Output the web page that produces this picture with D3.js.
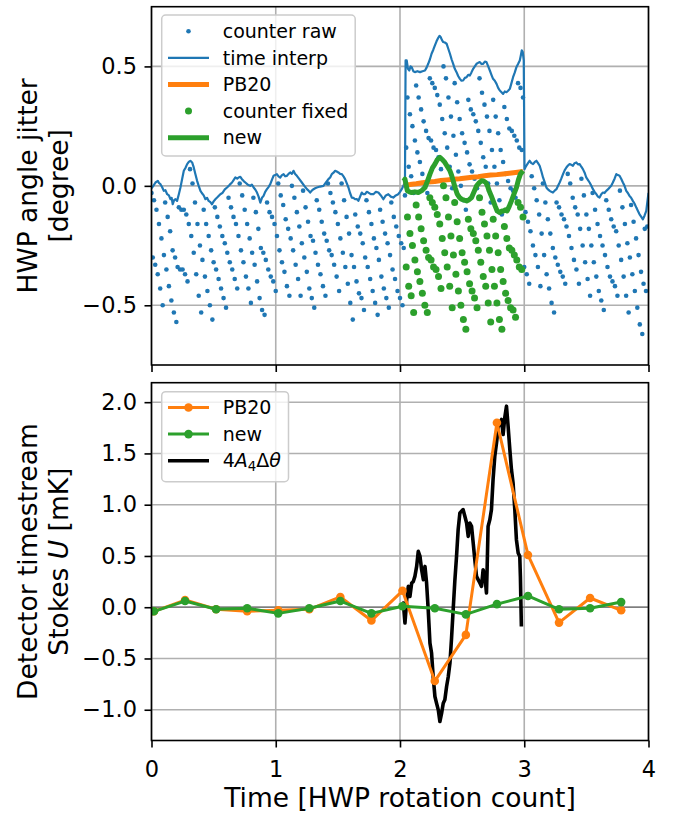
<!DOCTYPE html>
<html>
<head>
<meta charset="utf-8">
<script src="https://cdn.jsdelivr.net/npm/d3@7"></script>
<style>
  body { margin: 0; background: #ffffff; }
  svg { display: block; }
  text { font-family: "DejaVu Sans", sans-serif; }
</style>
</head>
<body>
<svg id="chart" width="673" height="817"></svg>
<script>
// ---------------- DATA ----------------
// Top panel: HWP angle jitter [degree] vs time [HWP rotation count]
const rawTime = [
0.00,0.01,0.02,0.03,0.04,0.05,0.06,0.07,0.08,0.09,0.10,0.11,0.12,0.13,0.14,0.15,0.16,0.17,0.18,0.19,
0.20,0.21,0.22,0.23,0.24,0.25,0.26,0.27,0.28,0.29,0.30,0.31,0.32,0.33,0.34,0.35,0.36,0.37,0.38,0.39,
0.40,0.41,0.42,0.43,0.44,0.45,0.46,0.47,0.48,0.49,0.50,0.51,0.52,0.53,0.54,0.55,0.56,0.57,0.58,0.59,
0.60,0.61,0.62,0.63,0.64,0.65,0.66,0.67,0.68,0.69,0.70,0.71,0.72,0.73,0.74,0.75,0.76,0.77,0.78,0.79,
0.80,0.81,0.82,0.83,0.84,0.85,0.86,0.87,0.88,0.89,0.90,0.91,0.92,0.93,0.94,0.95,0.96,0.97,0.98,0.99,
1.00,1.01,1.02,1.03,1.04,1.05,1.06,1.07,1.08,1.09,1.10,1.11,1.12,1.13,1.14,1.15,1.16,1.17,1.18,1.19,
1.20,1.21,1.22,1.23,1.24,1.25,1.26,1.27,1.28,1.29,1.30,1.31,1.32,1.33,1.34,1.35,1.36,1.37,1.38,1.39,
1.40,1.41,1.42,1.43,1.44,1.45,1.46,1.47,1.48,1.49,1.50,1.51,1.52,1.53,1.54,1.55,1.56,1.57,1.58,1.59,
1.60,1.61,1.62,1.63,1.64,1.65,1.66,1.67,1.68,1.69,1.70,1.71,1.72,1.73,1.74,1.75,1.76,1.77,1.78,1.79,
1.80,1.81,1.82,1.83,1.84,1.85,1.86,1.87,1.88,1.89,1.90,1.91,1.92,1.93,1.94,1.95,1.96,1.97,1.98,1.99,
2.00,2.01,2.02,2.03,2.04,2.05,2.06,2.07,2.08,2.09,2.10,2.11,2.12,2.13,2.14,2.15,2.16,2.17,2.18,2.19,
2.20,2.21,2.22,2.23,2.24,2.25,2.26,2.27,2.28,2.29,2.30,2.31,2.32,2.33,2.34,2.35,2.36,2.37,2.38,2.39,
2.40,2.41,2.42,2.43,2.44,2.45,2.46,2.47,2.48,2.49,2.50,2.51,2.52,2.53,2.54,2.55,2.56,2.57,2.58,2.59,
2.60,2.61,2.62,2.63,2.64,2.65,2.66,2.67,2.68,2.69,2.70,2.71,2.72,2.73,2.74,2.75,2.76,2.77,2.78,2.79,
2.80,2.81,2.82,2.83,2.84,2.85,2.86,2.87,2.88,2.89,2.90,2.91,2.92,2.93,2.94,2.95,2.96,2.97,2.98,2.99,
3.00,3.01,3.02,3.03,3.04,3.05,3.06,3.07,3.08,3.09,3.10,3.11,3.12,3.13,3.14,3.15,3.16,3.17,3.18,3.19,
3.20,3.21,3.22,3.23,3.24,3.25,3.26,3.27,3.28,3.29,3.30,3.31,3.32,3.33,3.34,3.35,3.36,3.37,3.38,3.39,
3.40,3.41,3.42,3.43,3.44,3.45,3.46,3.47,3.48,3.49,3.50,3.51,3.52,3.53,3.54,3.55,3.56,3.57,3.58,3.59,
3.60,3.61,3.62,3.63,3.64,3.65,3.66,3.67,3.68,3.69,3.70,3.71,3.72,3.73,3.74,3.75,3.76,3.77,3.78,3.79,
3.80,3.81,3.82,3.83,3.84,3.85,3.86,3.87,3.88,3.89,3.90,3.91,3.92,3.93,3.94,3.95,3.96,3.97,3.98,3.99];

const rawAngle = [
-0.03,-0.30,-0.06,-0.33,-0.10,-0.37,-0.16,-0.43,-0.22,-0.50,
-0.29,-0.07,-0.35,-0.13,-0.42,-0.19,-0.48,-0.27,-0.53,-0.30,
-0.57,-0.34,-0.09,-0.35,-0.10,-0.35,-0.10,-0.37,-0.12,-0.40,
-0.16,0.07,-0.21,0.01,-0.28,-0.07,-0.37,-0.16,-0.46,-0.25,
-0.53,-0.31,-0.10,-0.38,-0.16,-0.44,-0.21,-0.50,-0.27,-0.56,
-0.32,-0.09,-0.35,-0.13,-0.39,-0.17,-0.43,-0.21,-0.47,-0.24,
-0.51,-0.28,-0.05,-0.32,-0.09,-0.35,-0.13,-0.39,-0.16,-0.43,
-0.21,0.01,-0.27,-0.04,-0.32,-0.10,-0.38,-0.16,-0.43,-0.22,
-0.49,-0.28,-0.05,-0.33,-0.11,-0.40,-0.18,-0.47,-0.26,-0.52,
-0.28,-0.54,-0.31,-0.07,-0.35,-0.11,-0.38,-0.13,-0.40,-0.16,
-0.44,-0.21,0.01,-0.27,-0.04,-0.32,-0.08,-0.36,-0.14,-0.42,
-0.18,-0.46,-0.22,0.00,-0.27,-0.05,-0.33,-0.11,-0.39,-0.17,
-0.46,-0.24,-0.02,-0.30,-0.09,-0.36,-0.15,-0.43,-0.21,-0.47,
-0.23,-0.51,-0.28,-0.06,-0.33,-0.10,-0.37,-0.15,-0.42,-0.20,
-0.46,-0.23,0.01,-0.27,-0.03,-0.29,-0.07,-0.33,-0.11,-0.38,
-0.16,-0.44,-0.22,0.01,-0.28,-0.06,-0.34,-0.13,-0.41,-0.20,
-0.49,-0.29,-0.56,-0.34,-0.12,-0.40,-0.17,-0.45,-0.20,-0.47,
-0.24,-0.52,-0.30,-0.06,-0.34,-0.11,-0.39,-0.16,-0.44,-0.22,
-0.49,-0.26,-0.54,-0.31,-0.10,-0.38,-0.15,-0.43,-0.20,-0.47,
-0.24,-0.51,-0.29,-0.07,-0.35,-0.13,-0.39,-0.17,-0.44,-0.21,
-0.47,-0.24,-0.50,-0.26,-0.04,0.16,0.37,0.08,0.30,0.04,
0.25,-0.03,0.19,0.42,0.14,0.37,0.10,0.32,0.05,0.27,
0.00,0.23,-0.03,0.20,0.45,0.19,0.43,0.16,0.41,0.15,
0.38,0.12,0.34,0.07,0.28,0.50,0.22,0.45,0.16,0.37,
0.08,0.29,-0.01,0.21,0.43,0.13,0.35,0.06,0.28,0.00,
0.22,-0.06,0.18,-0.10,0.14,0.36,0.09,0.32,0.06,0.30,
0.03,0.27,-0.01,0.23,0.45,0.18,0.39,0.12,0.34,0.08,
0.29,0.01,0.23,-0.07,0.15,0.36,0.08,0.29,0.01,0.22,
-0.06,0.15,-0.12,0.10,0.33,0.05,0.28,0.02,0.24,-0.01,
0.23,-0.02,0.21,-0.05,0.19,0.43,0.16,0.41,0.15,0.37,
-0.34,-0.11,-0.37,-0.15,-0.41,-0.19,0.04,-0.25,-0.01,-0.29,
-0.06,-0.34,-0.12,-0.42,-0.20,0.01,-0.29,-0.07,-0.37,-0.14,
-0.43,-0.20,-0.49,-0.26,-0.53,-0.30,-0.07,-0.33,-0.09,-0.36,
-0.12,-0.38,-0.14,-0.41,-0.17,0.05,-0.21,0.01,-0.26,-0.05,
-0.31,-0.09,-0.35,-0.12,-0.41,-0.18,0.03,-0.25,-0.04,-0.32,
-0.12,-0.39,-0.18,-0.46,-0.25,-0.03,-0.32,-0.10,-0.38,-0.16,
-0.44,-0.21,-0.48,-0.25,-0.52,-0.29,-0.06,-0.34,-0.10,-0.38,
-0.14,-0.40,-0.17,-0.42,-0.19,-0.46,-0.25,-0.02,-0.31,-0.09,
-0.38,-0.16,-0.46,-0.24,-0.53,-0.30,-0.08,-0.37,-0.15,-0.44,
-0.22,-0.51,-0.29,-0.58,-0.36,-0.62,-0.41,-0.18,-0.44,-0.17];

const fixedTime = [
2.05,2.06,2.07,2.08,2.09,2.10,2.11,2.12,2.13,2.14,2.15,2.16,2.17,2.18,2.19,
2.20,2.21,2.22,2.23,2.24,2.25,2.26,2.27,2.28,2.29,2.30,2.31,2.32,2.33,2.34,2.35,2.36,2.37,2.38,2.39,
2.40,2.41,2.42,2.43,2.44,2.45,2.46,2.47,2.48,2.49,2.50,2.51,2.52,2.53,2.54,2.55,2.56,2.57,2.58,2.59,
2.60,2.61,2.62,2.63,2.64,2.65,2.66,2.67,2.68,2.69,2.70,2.71,2.72,2.73,2.74,2.75,2.76,2.77,2.78,2.79,
2.80,2.81,2.82,2.83,2.84,2.85,2.86,2.87,2.88,2.89,2.90,2.91,2.92,2.93,2.94,2.95,2.96,2.97,2.98,2.99];

const fixedAngle = [
-0.34,-0.13,-0.42,-0.20,-0.46,
-0.25,-0.53,-0.31,-0.08,-0.36,-0.13,-0.40,-0.18,-0.45,-0.23,
-0.50,-0.27,-0.53,-0.30,-0.05,-0.31,-0.07,-0.34,-0.09,-0.35,
-0.12,-0.38,-0.16,-0.43,-0.22,0.00,-0.28,-0.05,-0.34,-0.13,
-0.42,-0.21,-0.51,-0.29,-0.07,-0.37,-0.15,-0.44,-0.22,-0.50,
-0.28,-0.56,-0.32,-0.60,-0.36,-0.14,-0.41,-0.18,-0.44,-0.20,
-0.47,-0.23,-0.51,-0.27,-0.05,-0.32,-0.11,-0.38,-0.16,-0.42,
-0.21,-0.49,-0.27,-0.57,-0.35,-0.14,-0.42,-0.21,-0.49,-0.28,
-0.56,-0.35,-0.60,-0.40,-0.17,-0.45,-0.22,-0.48,-0.26,-0.51,
-0.27,-0.52,-0.29,-0.55,-0.31,-0.07,-0.34,-0.09,-0.35,-0.13];

// time-interpolated angle [t, deg]
const interpPoints = [
[0.000,-0.010],[0.015,0.000],[0.032,0.014],[0.051,0.021],[0.060,0.012],[0.072,0.007],[0.085,-0.005],[0.099,-0.021],[0.112,-0.018],[0.126,-0.035],[0.140,-0.040],[0.153,-0.056],[0.162,-0.050],[0.171,-0.077],[0.182,-0.060],[0.193,-0.056],[0.206,-0.063],[0.220,-0.035],[0.233,-0.007],[0.247,0.030],[0.260,0.063],[0.273,0.075],[0.287,0.091],[0.300,0.100],[0.313,0.105],[0.327,0.098],[0.340,0.077],[0.353,0.050],[0.367,0.021],[0.380,0.000],[0.394,-0.021],[0.405,-0.030],[0.420,-0.040],[0.434,-0.056],[0.447,-0.050],[0.460,-0.063],[0.474,-0.068],[0.487,-0.077],[0.500,-0.065],[0.514,-0.056],[0.530,-0.048],[0.554,-0.035],[0.570,-0.030],[0.590,-0.015],[0.608,-0.007],[0.630,0.005],[0.648,0.014],[0.662,0.025],[0.675,0.035],[0.690,0.030],[0.701,0.035],[0.715,0.038],[0.728,0.028],[0.742,0.020],[0.755,0.014],[0.775,0.005],[0.795,0.000],[0.808,0.005],[0.822,-0.007],[0.835,-0.015],[0.849,-0.028],[0.862,-0.045],[0.876,-0.070],[0.889,-0.050],[0.902,-0.042],[0.915,-0.025],[0.929,-0.014],[0.942,-0.005],[0.956,0.007],[0.969,0.025],[0.982,0.042],[0.995,0.045],[1.009,0.049],[1.022,0.040],[1.036,0.035],[1.050,0.045],[1.063,0.049],[1.076,0.040],[1.090,0.042],[1.103,0.050],[1.116,0.056],[1.130,0.050],[1.143,0.063],[1.156,0.050],[1.170,0.042],[1.190,0.028],[1.210,0.014],[1.230,0.000],[1.251,-0.014],[1.264,-0.020],[1.277,-0.028],[1.290,-0.020],[1.304,-0.014],[1.317,-0.010],[1.331,-0.007],[1.357,-0.003],[1.384,0.000],[1.404,0.014],[1.424,0.028],[1.438,0.035],[1.451,0.049],[1.465,0.055],[1.478,0.063],[1.491,0.060],[1.504,0.056],[1.518,0.050],[1.532,0.049],[1.545,0.040],[1.558,0.028],[1.572,0.010],[1.585,-0.007],[1.598,-0.030],[1.612,-0.049],[1.625,-0.050],[1.639,-0.056],[1.652,-0.055],[1.665,-0.063],[1.679,-0.045],[1.692,-0.028],[1.705,-0.035],[1.719,-0.035],[1.732,-0.025],[1.745,-0.028],[1.765,-0.035],[1.786,-0.035],[1.806,-0.025],[1.826,-0.028],[1.846,-0.040],[1.866,-0.056],[1.886,-0.040],[1.906,-0.035],[1.926,-0.045],[1.946,-0.049],[1.966,-0.040],[1.986,-0.035],[2.000,-0.025],[2.014,-0.014],[2.027,0.000],[2.040,0.014],
[2.045,0.525],[2.054,0.525],[2.064,0.490],[2.075,0.483],[2.085,0.500],[2.094,0.497],[2.107,0.480],[2.120,0.476],[2.140,0.480],[2.161,0.476],[2.181,0.480],[2.201,0.483],[2.214,0.495],[2.227,0.511],[2.241,0.530],[2.254,0.553],[2.268,0.570],[2.281,0.588],[2.294,0.605],[2.308,0.620],[2.318,0.628],[2.327,0.623],[2.338,0.610],[2.348,0.602],[2.361,0.600],[2.375,0.595],[2.388,0.575],[2.402,0.553],[2.415,0.530],[2.428,0.511],[2.441,0.490],[2.455,0.476],[2.468,0.460],[2.482,0.448],[2.495,0.440],[2.508,0.441],[2.522,0.452],[2.536,0.455],[2.549,0.465],[2.562,0.462],[2.575,0.475],[2.589,0.490],[2.602,0.500],[2.616,0.511],[2.629,0.515],[2.643,0.518],[2.656,0.510],[2.669,0.511],[2.683,0.520],[2.696,0.518],[2.710,0.500],[2.723,0.483],[2.736,0.465],[2.749,0.448],[2.763,0.440],[2.777,0.427],[2.790,0.410],[2.803,0.399],[2.817,0.392],[2.830,0.385],[2.843,0.395],[2.857,0.392],[2.870,0.398],[2.884,0.406],[2.897,0.430],[2.910,0.455],[2.924,0.475],[2.937,0.497],[2.950,0.510],[2.964,0.525],[2.972,0.545],[2.980,0.567],[2.988,0.560],[2.996,0.525],
[3.002,0.070],[3.010,0.078],[3.017,0.084],[3.030,0.095],[3.044,0.105],[3.057,0.095],[3.071,0.091],[3.085,0.100],[3.098,0.105],[3.111,0.095],[3.124,0.084],[3.138,0.060],[3.151,0.035],[3.165,0.015],[3.178,-0.007],[3.191,-0.015],[3.205,-0.021],[3.218,-0.025],[3.231,-0.028],[3.245,-0.020],[3.259,-0.014],[3.272,0.000],[3.285,0.014],[3.298,0.030],[3.312,0.049],[3.325,0.065],[3.339,0.077],[3.352,0.085],[3.365,0.091],[3.378,0.088],[3.392,0.084],[3.405,0.095],[3.419,0.098],[3.432,0.090],[3.446,0.091],[3.459,0.080],[3.472,0.070],[3.486,0.055],[3.499,0.035],[3.512,0.025],[3.526,0.014],[3.540,0.000],[3.553,-0.014],[3.566,-0.025],[3.580,-0.035],[3.593,-0.045],[3.606,-0.049],[3.620,-0.035],[3.633,-0.028],[3.646,-0.030],[3.660,-0.021],[3.673,-0.015],[3.687,-0.007],[3.700,0.000],[3.713,0.014],[3.727,0.030],[3.741,0.049],[3.754,0.045],[3.767,0.042],[3.780,0.030],[3.794,0.014],[3.807,0.000],[3.821,-0.021],[3.834,-0.030],[3.847,-0.042],[3.860,-0.050],[3.874,-0.063],[3.888,-0.075],[3.902,-0.091],[3.915,-0.105],[3.928,-0.119],[3.942,-0.130],[3.955,-0.140],[3.968,-0.125],[3.982,-0.105],[3.990,-0.070],[4.000,-0.030]];

// PB20 correction (top panel)
const pb20Points = [
[2.030,0.004],[2.080,0.006],[2.130,0.009],[2.180,0.013],[2.230,0.016],[2.280,0.018],[2.330,0.022],[2.380,0.025],[2.430,0.028],[2.480,0.030],[2.530,0.033],[2.580,0.036],[2.630,0.038],[2.680,0.042],[2.730,0.045],[2.780,0.047],[2.830,0.050],[2.880,0.053],[2.930,0.056],[2.990,0.060]];

// new correction (top panel)
const newPoints = [
[2.030,0.020],[2.040,0.028],[2.059,-0.021],[2.075,-0.025],[2.094,-0.028],[2.120,-0.025],[2.147,-0.028],[2.175,-0.020],[2.201,-0.007],[2.221,0.020],[2.241,0.049],[2.261,0.075],[2.281,0.091],[2.301,0.110],[2.321,0.119],[2.341,0.110],[2.361,0.098],[2.382,0.080],[2.402,0.063],[2.415,0.045],[2.428,0.021],[2.445,-0.010],[2.461,-0.035],[2.478,-0.048],[2.496,-0.056],[2.516,-0.060],[2.536,-0.063],[2.556,-0.058],[2.576,-0.049],[2.596,-0.025],[2.616,0.000],[2.636,0.012],[2.656,0.021],[2.673,0.020],[2.691,0.014],[2.704,0.000],[2.717,-0.021],[2.733,-0.040],[2.750,-0.063],[2.766,-0.085],[2.782,-0.105],[2.803,-0.112],[2.820,-0.105],[2.835,-0.105],[2.848,-0.100],[2.862,-0.105],[2.880,-0.085],[2.897,-0.063],[2.917,-0.035],[2.937,-0.007],[2.953,0.025],[2.969,0.049],[2.990,0.063]];

// Bottom panel: detector timestream Stokes U [mK]
const stokesTime = [0.02,0.27,0.52,0.77,1.02,1.27,1.52,1.77,2.02,2.28,2.53,2.78,3.03,3.28,3.53,3.78];
const pb20U = [-0.04,0.07,-0.02,-0.04,-0.03,-0.02,0.10,-0.13,0.16,-0.72,-0.27,1.80,0.51,-0.15,0.09,-0.03];
const newU  = [-0.04,0.06,-0.02,-0.01,-0.06,-0.01,0.06,-0.06,0.01,-0.01,-0.07,0.03,0.11,-0.02,-0.01,0.05];

// 4 A4 Δθ model [t, mK]
const modelPoints = [
[2.020,0.000],[2.027,0.041],[2.040,-0.154],[2.054,0.073],[2.067,0.203],[2.080,0.105],[2.094,0.236],[2.107,0.250],[2.120,0.301],[2.134,0.398],[2.147,0.545],[2.161,0.496],[2.174,0.366],[2.188,0.269],[2.201,0.398],[2.214,0.236],[2.227,-0.024],[2.241,-0.350],[2.254,-0.447],[2.267,-0.676],[2.281,-0.871],[2.294,-0.936],[2.308,-1.001],[2.321,-1.115],[2.335,-1.033],[2.348,-0.936],[2.361,-0.903],[2.375,-0.773],[2.388,-0.680],[2.402,-0.545],[2.415,-0.300],[2.428,-0.024],[2.441,0.250],[2.455,0.496],[2.468,0.757],[2.482,0.920],[2.495,0.936],[2.508,0.952],[2.522,0.887],[2.536,0.822],[2.549,0.691],[2.562,0.822],[2.576,0.789],[2.589,0.627],[2.602,0.464],[2.616,0.301],[2.629,0.269],[2.643,0.236],[2.656,0.203],[2.669,0.366],[2.683,0.301],[2.696,0.139],[2.701,0.366],[2.709,0.789],[2.723,0.854],[2.736,0.952],[2.749,1.245],[2.763,1.473],[2.777,1.604],[2.790,1.750],[2.803,1.799],[2.817,1.831],[2.830,1.685],[2.843,1.848],[2.857,1.961],[2.870,1.766],[2.884,1.538],[2.897,1.343],[2.910,1.213],[2.924,0.952],[2.937,0.659],[2.951,0.529],[2.964,0.496],[2.969,0.301],[2.977,-0.188]];

const xTicks = [0, 1, 2, 3, 4];
const topYTicks = [-0.5, 0.0, 0.5];
const botYTicks = [-1.0, -0.5, 0.0, 0.5, 1.0, 1.5, 2.0];

// ---------------- LAYOUT ----------------
const C = { blue: "#1f77b4", orange: "#ff7f0e", green: "#2ca02c", grid: "#b0b0b0" };
const L = 151.5, R = 648.5;
const topP = { top: 6.7, bottom: 365 };
const botP = { top: 382.7, bottom: 740.5 };
const TICK_FS = 22.5, LEG_FS = 19, LAB_FS = 26.5;

const svg = d3.select("#chart");
const x = d3.scaleLinear().domain([0, 4]).range([L, R]);
const yTop = d3.scaleLinear().domain([-0.75, 0.75]).range([topP.bottom, topP.top]);
const yBot = d3.scaleLinear().domain([-1.30, 2.19]).range([botP.bottom, botP.top]);

const defs = svg.append("defs");
defs.append("clipPath").attr("id", "clipTop").append("rect")
  .attr("x", L).attr("y", topP.top).attr("width", R - L).attr("height", topP.bottom - topP.top);
defs.append("clipPath").attr("id", "clipBot").append("rect")
  .attr("x", L).attr("y", botP.top).attr("width", R - L).attr("height", botP.bottom - botP.top);

function drawGrid(y, yTicks, P) {
  const g = svg.append("g");
  g.selectAll("line.v").data(xTicks).join("line")
    .attr("x1", d => x(d)).attr("x2", d => x(d))
    .attr("y1", P.top).attr("y2", P.bottom)
    .attr("stroke", C.grid).attr("stroke-width", 1.6);
  g.selectAll("line.h").data(yTicks).join("line")
    .attr("x1", L).attr("x2", R)
    .attr("y1", d => y(d)).attr("y2", d => y(d))
    .attr("stroke", C.grid).attr("stroke-width", 1.6);
}

function drawAxes(y, yTicks, P, showXLabels) {
  const ya = svg.append("g").attr("transform", `translate(${L},0)`)
    .call(d3.axisLeft(y).tickValues(yTicks).tickSize(7).tickPadding(7.5).tickFormat(d3.format(".1f")));
  ya.select(".domain").remove();
  ya.selectAll("line").attr("stroke", "#000").attr("stroke-width", 1.6);
  ya.selectAll("text").attr("font-size", TICK_FS).attr("font-family", "DejaVu Sans").attr("fill", "#000");

  const xa = svg.append("g").attr("transform", `translate(0,${P.bottom})`)
    .call(d3.axisBottom(x).tickValues(xTicks).tickSize(7).tickPadding(14)
      .tickFormat(showXLabels ? d3.format("d") : () => ""));
  xa.select(".domain").remove();
  xa.selectAll("line").attr("stroke", "#000").attr("stroke-width", 1.6);
  xa.selectAll("text").attr("font-size", TICK_FS).attr("font-family", "DejaVu Sans").attr("fill", "#000");

  svg.append("rect").attr("x", L).attr("y", P.top)
    .attr("width", R - L).attr("height", P.bottom - P.top)
    .attr("fill", "none").attr("stroke", "#000").attr("stroke-width", 1.6);
}

// ---------------- TOP PANEL ----------------
drawGrid(yTop, topYTicks, topP);
const gt = svg.append("g").attr("clip-path", "url(#clipTop)");

gt.selectAll("circle.raw").data(rawTime.map((t, i) => [t, rawAngle[i]])).join("circle")
  .attr("cx", d => x(d[0])).attr("cy", d => yTop(d[1])).attr("r", 2.3).attr("fill", C.blue);

gt.append("path").datum(interpPoints)
  .attr("d", d3.line().x(d => x(d[0])).y(d => yTop(d[1])))
  .attr("fill", "none").attr("stroke", C.blue).attr("stroke-width", 2.2).attr("stroke-linejoin", "round");

gt.append("path").datum(pb20Points)
  .attr("d", d3.line().x(d => x(d[0])).y(d => yTop(d[1])))
  .attr("fill", "none").attr("stroke", C.orange).attr("stroke-width", 5).attr("stroke-linejoin", "round");

gt.selectAll("circle.fixed").data(fixedTime.map((t, i) => [t, fixedAngle[i]])).join("circle")
  .attr("cx", d => x(d[0])).attr("cy", d => yTop(d[1])).attr("r", 3.5).attr("fill", C.green);

gt.append("path").datum(newPoints)
  .attr("d", d3.line().x(d => x(d[0])).y(d => yTop(d[1])))
  .attr("fill", "none").attr("stroke", C.green).attr("stroke-width", 5).attr("stroke-linejoin", "round");

drawAxes(yTop, topYTicks, topP, false);

// top legend
(function () {
  const g = svg.append("g");
  g.append("rect").attr("x", 161.7).attr("y", 15).attr("width", 193.5).attr("height", 141)
    .attr("rx", 4).attr("fill", "#fff").attr("fill-opacity", 0.8)
    .attr("stroke", "#cccccc").attr("stroke-width", 1.5);
  const rows = [31.3, 57.9, 84.5, 111.1, 137.7];
  const labels = ["counter raw", "time interp", "PB20", "counter fixed", "new"];
  g.append("circle").attr("cx", 188.5).attr("cy", rows[0]).attr("r", 2.3).attr("fill", C.blue);
  g.append("line").attr("x1", 168).attr("x2", 209).attr("y1", rows[1]).attr("y2", rows[1])
    .attr("stroke", C.blue).attr("stroke-width", 2.2);
  g.append("line").attr("x1", 168).attr("x2", 209).attr("y1", rows[2]).attr("y2", rows[2])
    .attr("stroke", C.orange).attr("stroke-width", 5);
  g.append("circle").attr("cx", 188.5).attr("cy", rows[3]).attr("r", 3.5).attr("fill", C.green);
  g.append("line").attr("x1", 168).attr("x2", 209).attr("y1", rows[4]).attr("y2", rows[4])
    .attr("stroke", C.green).attr("stroke-width", 5);
  g.selectAll("text").data(labels).join("text")
    .attr("x", 222.7).attr("y", (d, i) => rows[i]).attr("dy", "0.35em")
    .attr("font-size", LEG_FS).attr("fill", "#000").text(d => d);
})();

// ---------------- BOTTOM PANEL ----------------
drawGrid(yBot, botYTicks, botP);
const gb = svg.append("g").attr("clip-path", "url(#clipBot)");

gb.append("line").attr("x1", L).attr("x2", R).attr("y1", yBot(0)).attr("y2", yBot(0))
  .attr("stroke", "#6e6e6e").attr("stroke-width", 1.3);

gb.append("path").datum(modelPoints)
  .attr("d", d3.line().x(d => x(d[0])).y(d => yBot(d[1])))
  .attr("fill", "none").attr("stroke", "#000").attr("stroke-width", 3.6).attr("stroke-linejoin", "round");

function seriesLine(vals, color) {
  const pts = stokesTime.map((t, i) => [t, vals[i]]);
  gb.append("path").datum(pts)
    .attr("d", d3.line().x(d => x(d[0])).y(d => yBot(d[1])))
    .attr("fill", "none").attr("stroke", color).attr("stroke-width", 3).attr("stroke-linejoin", "round");
  gb.append("g").selectAll("circle").data(pts).join("circle")
    .attr("cx", d => x(d[0])).attr("cy", d => yBot(d[1])).attr("r", 4.3).attr("fill", color);
}
seriesLine(pb20U, C.orange);
seriesLine(newU, C.green);

drawAxes(yBot, botYTicks, botP, true);

// bottom legend
(function () {
  const g = svg.append("g");
  g.append("rect").attr("x", 161.7).attr("y", 391.7).attr("width", 126.8).attr("height", 90)
    .attr("rx", 4).attr("fill", "#fff").attr("fill-opacity", 0.8)
    .attr("stroke", "#cccccc").attr("stroke-width", 1.5);
  const rows = [407.5, 434.1, 460.7];
  [[C.orange, 0], [C.green, 1]].forEach(([c, i]) => {
    g.append("line").attr("x1", 168).attr("x2", 209).attr("y1", rows[i]).attr("y2", rows[i])
      .attr("stroke", c).attr("stroke-width", 3);
    g.append("circle").attr("cx", 188.5).attr("cy", rows[i]).attr("r", 4.3).attr("fill", c);
  });
  g.append("line").attr("x1", 168).attr("x2", 209).attr("y1", rows[2]).attr("y2", rows[2])
    .attr("stroke", "#000").attr("stroke-width", 3.6);
  g.append("text").attr("x", 222.7).attr("y", rows[0]).attr("dy", "0.35em")
    .attr("font-size", LEG_FS).text("PB20");
  g.append("text").attr("x", 222.7).attr("y", rows[1]).attr("dy", "0.35em")
    .attr("font-size", LEG_FS).text("new");
  const t = g.append("text").attr("x", 222.7).attr("y", rows[2]).attr("dy", "0.35em")
    .attr("font-size", LEG_FS);
  t.append("tspan").text("4");
  t.append("tspan").attr("font-style", "italic").text("A");
  t.append("tspan").attr("font-size", LEG_FS * 0.7).attr("dy", "0.25em").text("4");
  t.append("tspan").attr("dy", "-0.18em").text("Δ");
  t.append("tspan").attr("font-style", "italic").text("θ");
})();

// ---------------- LABELS ----------------
const yl1 = svg.append("g").attr("transform", `translate(0,${(topP.top + topP.bottom) / 2}) rotate(-90)`);
yl1.append("text").attr("x", 0).attr("y", 37).attr("text-anchor", "middle")
  .attr("font-size", LAB_FS).text("HWP angle jitter");
yl1.append("text").attr("x", 0).attr("y", 68).attr("text-anchor", "middle")
  .attr("font-size", LAB_FS).text("[degree]");

const yl2 = svg.append("g").attr("transform", `translate(0,${(botP.top + botP.bottom) / 2}) rotate(-90)`);
yl2.append("text").attr("x", 0).attr("y", 37).attr("text-anchor", "middle")
  .attr("font-size", LAB_FS).text("Detector timestream");
const s2 = yl2.append("text").attr("x", 0).attr("y", 68).attr("text-anchor", "middle")
  .attr("font-size", LAB_FS);
s2.append("tspan").text("Stokes ");
s2.append("tspan").attr("font-style", "italic").text("U");
s2.append("tspan").text(" [mK]");

svg.append("text").attr("x", (L + R) / 2).attr("y", 807).attr("text-anchor", "middle")
  .attr("font-size", LAB_FS).text("Time [HWP rotation count]");
</script>
</body>
</html>
